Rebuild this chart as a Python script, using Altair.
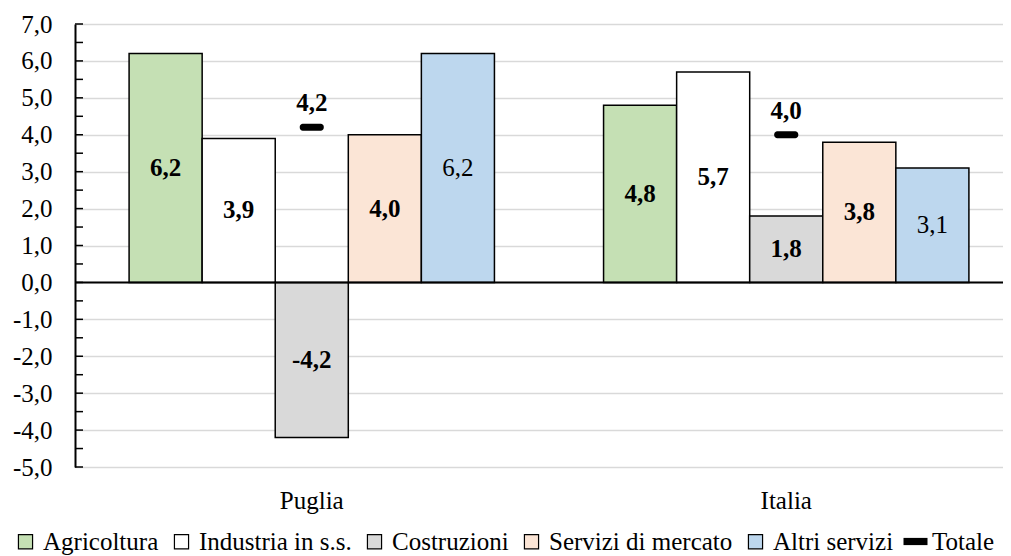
import altair as alt
import pandas as pd

# ---- data ----
regions = ["Puglia", "Italia"]
sectors = ["Agricoltura", "Industria in s.s.", "Costruzioni", "Servizi di mercato", "Altri servizi"]
puglia_vals = [6.2, 3.9, -4.2, 4.0, 6.2]
italia_vals = [4.8, 5.7, 1.8, 3.8, 3.1]
totale_vals = [4.2, 4.0]
totale_name = ["Totale"]
sector_colors = ["#C5E0B4", "#FFFFFF", "#D9D9D9", "#FBE5D6", "#BDD7EE"]
y_tick_values = [-5, -4, -3, -2, -1, 0, 1, 2, 3, 4, 5, 6, 7]
minor_tick_values = [-5, -4.5, -4, -3.5, -3, -2.5, -2, -1.5, -1, -0.5, 0, 0.5, 1, 1.5,
                     2, 2.5, 3, 3.5, 4, 4.5, 5, 5.5, 6, 6.5, 7]
bold_sectors = ["Agricoltura", "Industria in s.s.", "Costruzioni", "Servizi di mercato"]

FONT = "Liberation Serif"
FS = 25


def fmt(v):
    return f"{v:.1f}".replace(".", ",")


rows = []
for reg, vals in zip(regions, [puglia_vals, italia_vals]):
    for s, v in zip(sectors, vals):
        rows.append({"region": reg, "sector": s, "value": v, "label": fmt(v),
                     "bold": s in bold_sectors})
bars_df = pd.DataFrame(rows)
tot_df = pd.DataFrame({"region": regions, "totale": totale_vals,
                       "label": [fmt(v) for v in totale_vals],
                       "serie": totale_name * len(regions)})
ticks_df = pd.DataFrame({"t": minor_tick_values})
zero_df = pd.DataFrame({"z": [0]})

W = 928
H = 443

yscale = alt.Scale(domain=[-5, 7], nice=False, zero=False)
yaxis = alt.Axis(title=None, values=y_tick_values, ticks=False,
                 domain=True, domainColor="black", domainWidth=2,
                 grid=True, gridColor="#D9D9D9", gridWidth=1.5,
                 labelFont=FONT, labelFontSize=FS, labelColor="black",
                 labelPadding=23,
                 labelExpr="(datum.value < 0 ? '-' : '') + replace(format(abs(datum.value), '.1f'), '.', ',')")
xscale = alt.Scale(domain=regions, range=[0, 948], paddingInner=0.23, paddingOuter=0.114)
xaxis = alt.Axis(title=None, domain=False, ticks=False, labelAngle=0,
                 labelFont=FONT, labelFontSize=FS, labelColor="black",
                 labelPadding=21, grid=False)
xoff = alt.XOffset("sector:N", sort=sectors, scale=alt.Scale(domain=sectors, paddingInner=0, paddingOuter=0))


def X():
    return alt.X("region:N", sort=regions, scale=xscale, axis=xaxis)


def Y(field):
    return alt.Y(field, scale=yscale, axis=yaxis)


bars = alt.Chart(bars_df).mark_bar(stroke="black", strokeWidth=1.5).encode(
    x=X(),
    xOffset=xoff,
    y=Y("value:Q"),
    fill=alt.Fill("sector:N", sort=sectors,
                  scale=alt.Scale(domain=sectors, range=sector_colors),
                  legend=alt.Legend(title=None, orient="none", legendX=-62, legendY=505,
                                    direction="horizontal", columns=5,
                                    symbolType="square", symbolSize=200,
                                    symbolStrokeColor="black", symbolStrokeWidth=1.2,
                                    symbolOpacity=1,
                                    labelFont=FONT, labelFontSize=FS, labelColor="black",
                                    labelOffset=5, columnPadding=10, padding=0,
                                    labelLimit=400)),
)

zero_rule = alt.Chart(zero_df).mark_rule(color="black", strokeWidth=2).encode(
    y=Y("z:Q"),
    x=alt.value(0), x2=alt.value(W),
)

tick_rules = alt.Chart(ticks_df).mark_rule(color="black", strokeWidth=1.5).encode(
    y=Y("t:Q"),
    x=alt.value(0), x2=alt.value(8),
)

labels_base = alt.Chart(bars_df).transform_calculate(mid="datum.value / 2")

labels_bold = labels_base.transform_filter("datum.bold").mark_text(
    font=FONT, fontSize=FS, fontWeight="bold", color="black", baseline="middle"
).encode(x=X(), xOffset=xoff, y=Y("mid:Q"), text="label:N")

labels_norm = labels_base.transform_filter("!datum.bold").mark_text(
    font=FONT, fontSize=FS, fontWeight="normal", color="black", baseline="middle"
).encode(x=X(), xOffset=xoff, y=Y("mid:Q"), text="label:N")

tot_tick = alt.Chart(tot_df).mark_tick(thickness=7, size=24, cornerRadius=3, opacity=1).encode(
    x=X(),
    y=Y("totale:Q"),
    color=alt.Color("serie:N", scale=alt.Scale(domain=totale_name, range=["black"]),
                    legend=alt.Legend(title=None, orient="none", legendX=828, legendY=505,
                                      symbolType="M-1,-0.3H1V0.3H-1Z", symbolSize=576,
                                      symbolStrokeWidth=0, symbolOpacity=1,
                                      labelFont=FONT, labelFontSize=FS, labelColor="black",
                                      labelOffset=4, padding=0)),
)

tot_label = alt.Chart(tot_df).mark_text(
    font=FONT, fontSize=FS, fontWeight="bold", color="black", dy=-24, baseline="middle"
).encode(x=X(), y=Y("totale:Q"), text="label:N")

chart = alt.layer(bars, zero_rule, tick_rules, labels_bold, labels_norm, tot_tick, tot_label).properties(
    width=W, height=H,
    autosize=alt.AutoSizeParams(type="none"),
    padding={"left": 67, "top": 16, "right": 0, "bottom": 89},
).resolve_legend(fill="independent", color="independent").configure(
    font=FONT
).configure_axis(labelFont=FONT).configure_legend(labelFont=FONT).configure_view(stroke=None)

chart.save("out.html", embed_options={"renderer": "svg", "actions": False})
